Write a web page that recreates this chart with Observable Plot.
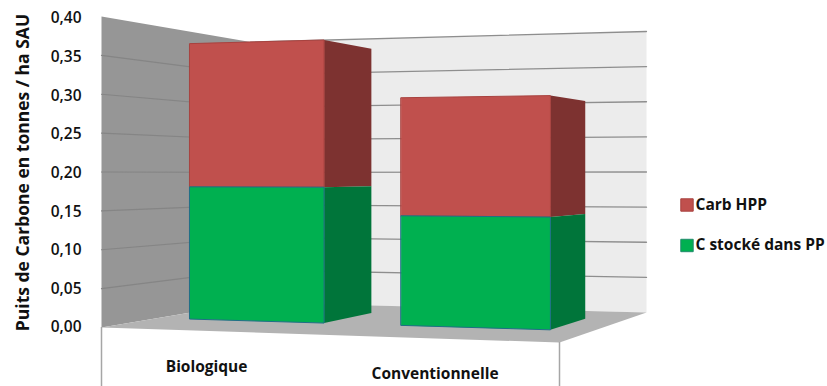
<!DOCTYPE html>
<html lang="fr">
<head>
<meta charset="utf-8">
<title>Puits de carbone</title>
<script src="https://cdn.jsdelivr.net/npm/d3@7"></script>
<script src="https://cdn.jsdelivr.net/npm/@observablehq/plot@0.6"></script>
<style>
  html, body { margin: 0; padding: 0; background: #fff; }
  svg { display: block; }
</style>
</head>
<body>
<div id="chart"></div>
<script>
// Chart values
const categories = ["Biologique", "Conventionnelle"];
const stocke = [0.18, 0.143];       // C stocké dans PP
const hpp = [0.195, 0.154];         // Carb HPP
const yTicks = [0, 0.05, 0.1, 0.15, 0.2, 0.25, 0.3, 0.35, 0.4];
const seriesNames = ["Carb HPP", "C stocké dans PP"];
const yTitle = "Puits de Carbone en tonnes / ha SAU";

// Colours
const red = "#c0504d", redSide = "#7d3230";
const green = "#00b050", greenSide = "#00753a";
const wallSide = "#969696", wallBack = "#ececec", floorFill = "#b3b3b3";

// Value axis scale; everything in the 3D box is expressed in its units
const W = 827, H = 386;
const yScale = d3.scaleLinear([0, 0.4], [327, 18]);

// Floor of the 3D box: front-left, front-right, back-right, back-left
const fl = [101, 327], fr = [559, 342], br = [646, 312], bl = [250, 302];
// Pixels per unit of value at three floor corners
const rateFL = 777.5, rateBL = 651, rateBR = 702.5;

// Perspective mapping of the unit floor square (u across, w in depth)
const sx = fl[0] - fr[0] + br[0] - bl[0], sy = fl[1] - fr[1] + br[1] - bl[1];
const dx1 = fr[0] - br[0], dx2 = bl[0] - br[0], dy1 = fr[1] - br[1], dy2 = bl[1] - br[1];
const det = dx1 * dy2 - dx2 * dy1;
const g = (sx * dy2 - dx2 * sy) / det, h = (dx1 * sy - sx * dy1) / det;
const r0 = 1 / rateFL, r2 = 1 / rateBL - r0, r1 = 1 / rateBR - 1 / rateBL;

function project(u, w, v) {
  const t = 1 + g * u + h * w;
  const px = ((fr[0] - fl[0] + g * fr[0]) * u + (bl[0] - fl[0] + h * bl[0]) * w + fl[0]) / t;
  const py = ((fr[1] - fl[1] + g * fr[1]) * u + (bl[1] - fl[1] + h * bl[1]) * w + fl[1]) / t;
  const rate = 1 / (r0 + r1 * u + r2 * w);
  return {x: px, y: yScale.invert(py - v * rate)};
}

// Builds one closed polygon from box coordinates [u, w, v]
const quad = (corners) => corners.map(([u, w, v]) => project(u, w, v));
const face = (corners, fill, stroke = "none", strokeWidth = 0) =>
  Plot.line(quad(corners), {x: "x", y: "y", fill, stroke, strokeWidth, curve: "linear-closed"});

const maxValue = yTicks[yTicks.length - 1];

// Box walls and floor
const walls = [
  face([[0, 0, 0], [0, 1, 0], [0, 1, maxValue], [0, 0, maxValue]], wallSide),
  face([[0, 1, 0], [1, 1, 0], [1, 1, maxValue], [0, 1, maxValue]], wallBack),
  face([[0, 0, 0], [1, 0, 0], [1, 1, 0], [0, 1, 0]], floorFill)
];

// Gridlines running along the side wall and the back wall
const gridSide = yTicks.slice(1, -1).map((v) => [[0, 0, v], [0, 1, v]]);
const gridBack = yTicks.slice(1).map((v) => [[0, 1, v], [1, 1, v]]);
const gridMarks = [
  ...gridSide.map((seg) => Plot.line(quad(seg), {x: "x", y: "y", stroke: "#858585", strokeWidth: 1.2})),
  ...gridBack.map((seg) => Plot.line(quad(seg), {x: "x", y: "y", stroke: "#8e8e8e", strokeWidth: 1.3}))
];

// Drop lines under the floor
const dropLines = [[0, 0], [1, 0]].map(([u, w]) => {
  const p = project(u, w, 0);
  return Plot.ruleX([p.x], {y1: p.y, y2: yScale.invert(H), stroke: "#a6a6a6", strokeWidth: 1.5});
});

// Bars in perspective: each stack has a side face and a front face
const band = d3.scaleBand(categories, [0.082, 0.912]).paddingInner(0.3525);
const wFront = 0.338, wBack = 0.716;
const barMarks = categories.flatMap((c, i) => {
  const u0 = band(c), u1 = u0 + band.bandwidth();
  const split = stocke[i], total = stocke[i] + hpp[i];
  const edge = "#1f6f86";
  return [
    face([[u1, wFront, split], [u1, wBack, split], [u1, wBack, total], [u1, wFront, total]], redSide),
    face([[u1, wFront, 0], [u1, wBack, 0], [u1, wBack, split], [u1, wFront, split]], greenSide),
    face([[u0, wFront, split], [u1, wFront, split], [u1, wFront, total], [u0, wFront, total]], red, "#a8423f", 1),
    face([[u0, wFront, 0], [u1, wFront, 0], [u1, wFront, split], [u0, wFront, split]], green, edge, 1)
  ];
});

// Category labels hang below the front edge of the floor
const labelU = [0.25, 0.75];
const labelGap = yScale.invert(0) - yScale.invert(36);
const catLabels = categories.map((c, i) => {
  const p = project(labelU[i], 0, 0);
  return {name: c, x: p.x, y: p.y - labelGap};
});

// Legend entries
const legendColors = [[red, "#a8423f"], [green, "#1f8a6a"]];
const legendY = [204.5, 245];
const legend = seriesNames.map((name, i) => ({
  name, y: yScale.invert(legendY[i]), fill: legendColors[i][0], stroke: legendColors[i][1]
}));

const font = "'Open Sans', 'DejaVu Sans', sans-serif";

const chart = Plot.plot({
  width: W,
  height: H,
  marginTop: 0, marginRight: 0, marginBottom: 0, marginLeft: 0,
  style: {fontFamily: font, background: "#fff"},
  x: {domain: [0, W], range: [0, W], axis: null},
  y: {domain: yScale.domain(), range: yScale.range(), label: null},
  marks: [
    ...walls,
    ...gridMarks,
    ...dropLines,
    ...barMarks,
    Plot.axisY(yTicks, {
      x: 81, anchor: "left", tickSize: 0, tickPadding: 0, label: null,
      tickFormat: (d) => d.toFixed(2).replace(".", ","),
      fontSize: 15.5, fontWeight: 600, fill: "#111"
    }),
    Plot.text([yTitle], {
      x: 23, y: yScale.invert(172), rotate: -90, fontSize: 17.5, fontWeight: 700, fill: "#111"
    }),
    Plot.text(catLabels, {x: "x", y: "y", text: "name", fontSize: 15.5, fontWeight: 700, fill: "#111"}),
    Plot.dot(legend, {
      x: 686.5, y: "y", symbol: "square", r: 7, fill: "fill", stroke: "stroke", strokeWidth: 1
    }),
    Plot.text(legend, {
      x: 695, y: "y", text: "name", textAnchor: "start", fontSize: 15.5, fontWeight: 700, fill: "#111"
    })
  ]
});
document.getElementById("chart").append(chart);
</script>
</body>
</html>
